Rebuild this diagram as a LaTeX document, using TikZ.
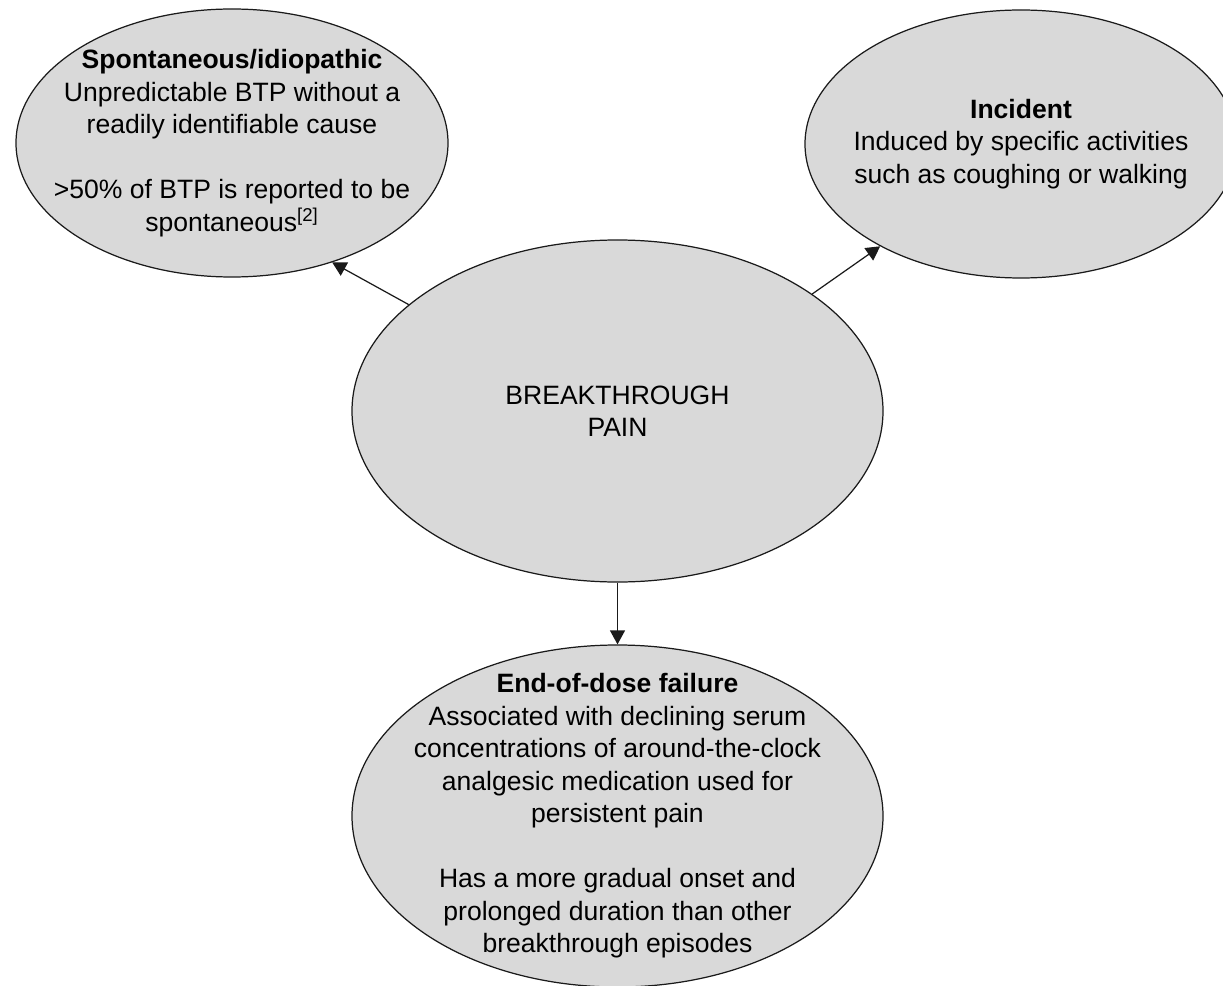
\documentclass[tikz,border=0pt]{standalone}
\usepackage{fontspec}
\setmainfont{Liberation Sans}
\usetikzlibrary{arrows.meta,shapes.geometric}
\definecolor{btfill}{HTML}{D9D9D9}
\definecolor{btline}{HTML}{1A1A1A}
\tikzset{
  bubble/.style={ellipse,draw=btline,fill=btfill,line width=.7pt,minimum width=8.64cm,minimum height=5.36cm,inner sep=0pt},
  hub/.style={bubble,minimum width=10.62cm,minimum height=6.84cm},
  txt/.style={align=center,font=\fontsize{15.1}{18.5}\selectfont,text=black,inner sep=0pt},
  arr/.style={-{Triangle[length=2.8mm,width=3mm]},draw=btline,line width=.7pt},
}
\begin{document}
\begin{tikzpicture}[x=.2mm,y=-.2mm]
  \useasboundingbox (0,0) rectangle (1223,986);
  \node[hub] (pain) at (617.5,411) {};
  \node[bubble] (spont) at (232,143) {};
  \node[bubble] (incid) at (1021,144) {};
  \node[hub] (dose) at (617.5,816) {};
  \node[txt] (painT) at (pain) {BREAKTHROUGH\\PAIN};
  \node[txt] (spontT) at (spont) {\textbf{Spontaneous/idiopathic}\\Unpredictable BTP without a\\readily identifiable cause\\[18.5pt]>50\% of BTP is reported to be\\spontaneous\textsuperscript{[2]}};
  \node[txt] (incidT) at (incid) {\textbf{Incident}\\Induced by specific activities\\such as coughing or walking};
  \node[txt] (doseT) at (dose) {\textbf{End-of-dose failure}\\Associated with declining serum\\concentrations of around-the-clock\\analgesic medication used for\\persistent pain\\[18.5pt]Has a more gradual onset and\\prolonged duration than other\\breakthrough episodes};
  \draw[arr] (pain.153.8) -- (spont.-50.1);
  \draw[arr] (pain.31.6) -- (incid.216.9);
  \draw[arr] (pain.south) -- (dose.north);
\end{tikzpicture}
\end{document}
